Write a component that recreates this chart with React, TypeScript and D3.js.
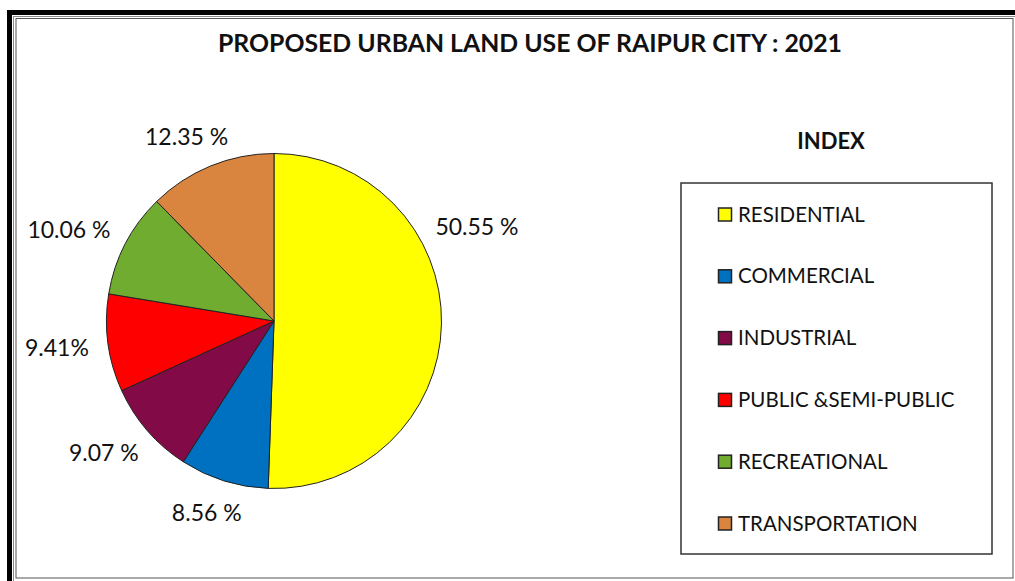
import React from "react";
import * as d3 from "d3";

const categories = [
  "RESIDENTIAL",
  "COMMERCIAL",
  "INDUSTRIAL",
  "PUBLIC &SEMI-PUBLIC",
  "RECREATIONAL",
  "TRANSPORTATION",
];
const values = [50.55, 8.56, 9.07, 9.41, 10.06, 12.35];
const valueLabels = ["50.55 %", "8.56 %", "9.07 %", "9.41%", "10.06 %", "12.35 %"];
const colors = ["#FFFF00", "#0070C0", "#820A46", "#FF0000", "#6FAC2F", "#D9843F"];
const title = "PROPOSED URBAN LAND USE OF RAIPUR CITY : 2021";
const legendTitle = "INDEX";

const W = 1015;
const H = 581;
const cx = 274;
const cy = 321;
const R = 167.5;
const labelR = 189;
const labelCharW = 12;
const labelH = 22;
const labelAngleShift = [-29.5, 0, 0, 0, 0, 0];
const font = "Lato, 'Open Sans', sans-serif";

export default function App() {
  const pie = d3
    .pie<number>()
    .sort(null)
    .value((d) => d);
  const arcs = pie(values);
  const arcGen = d3.arc<d3.PieArcDatum<number>>().innerRadius(0).outerRadius(R);

  const legendY = d3
    .scalePoint<number>()
    .domain(d3.range(categories.length))
    .range([214, 523]);

  return (
    <svg
      width={W}
      height={H}
      style={{ position: "absolute", left: 0, top: 0, background: "#fff" }}
    >
      {/* outer frame */}
      <line x1={9.5} y1={10} x2={9.5} y2={H} stroke="#000" strokeWidth={5} />
      <line x1={7} y1={12.5} x2={W} y2={12.5} stroke="#000" strokeWidth={5} />
      <line x1={13.5} y1={16.5} x2={13.5} y2={H} stroke="#888" strokeWidth={1} />
      <line x1={13} y1={16.5} x2={W} y2={16.5} stroke="#888" strokeWidth={1} />
      <rect x={16} y={18.5} width={997} height={559.5} fill="#fff" stroke="#555" strokeWidth={1} />

      <text
        x={530}
        y={52}
        textAnchor="middle"
        fontFamily={font}
        fontWeight="bold"
        fontSize={25}
        fill="#111"
        textLength={624}
        lengthAdjust="spacingAndGlyphs"
      >
        {title}
      </text>

      <g transform={`translate(${cx},${cy})`}>
        {arcs.map((a, i) => (
          <path key={i} d={arcGen(a) || ""} fill={colors[i]} stroke="#222" strokeWidth={1} />
        ))}
      </g>

      {arcs.map((a, i) => {
        const ang = (a.startAngle + a.endAngle) / 2 + (labelAngleShift[i] * Math.PI) / 180;
        const ux = Math.sin(ang);
        const uy = -Math.cos(ang);
        const w = valueLabels[i].length * labelCharW;
        const x = cx + labelR * ux + (ux * w) / 2;
        const y = cy + labelR * uy + (uy * labelH) / 2;
        return (
          <text
            key={i}
            x={x}
            y={y}
            textAnchor="middle"
            dominantBaseline="central"
            fontFamily={font}
            fontSize={23}
            fill="#111"
          >
            {valueLabels[i]}
          </text>
        );
      })}

      <text
        x={831}
        y={149}
        textAnchor="middle"
        fontFamily={font}
        fontWeight="bold"
        fontSize={22}
        fill="#111"
      >
        {legendTitle}
      </text>

      <rect x={681} y={183} width={311} height={371} fill="#fff" stroke="#333" strokeWidth={1.5} />
      {categories.map((c, i) => {
        const yc = legendY(i) as number;
        return (
          <g key={c}>
            <rect x={718.5} y={yc - 6} width={13} height={13} fill={colors[i]} stroke="#222" strokeWidth={1.5} />
            <text x={738} y={yc + 7.5} fontFamily={font} fontSize={20.5} fill="#111">
              {c}
            </text>
          </g>
        );
      })}
    </svg>
  );
}
